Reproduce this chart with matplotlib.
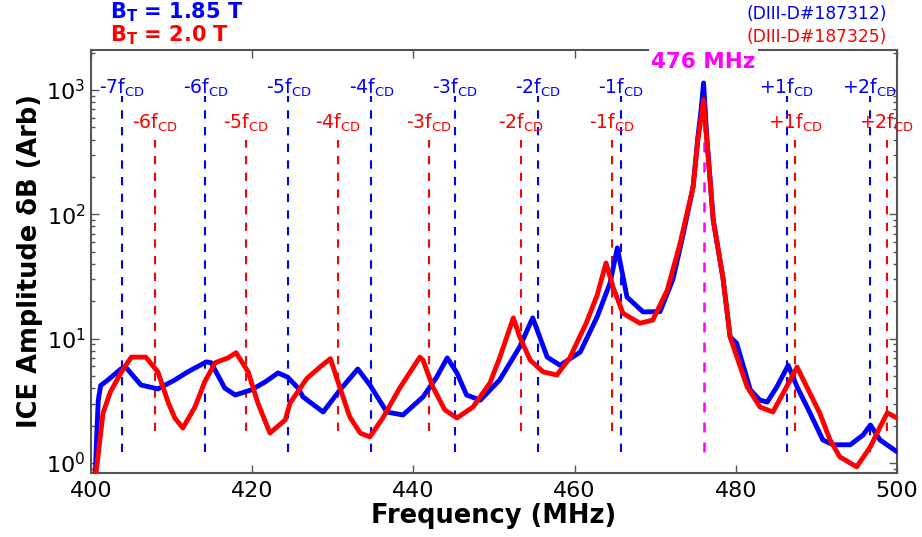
import matplotlib
matplotlib.use("Agg")
import matplotlib.pyplot as plt
import numpy as np

# ---------------- data ----------------
f_center = 476.0
fcd_blue = 10.3
fcd_red = 11.35
blue_harm = [-7, -6, -5, -4, -3, -2, -1, 1, 2]
red_harm = [-6, -5, -4, -3, -2, -1, 1, 2]

blue_f = [400.5, 400.7, 400.9, 401.2, 402.1, 403.7, 404.3, 406.2, 408.3, 410.4, 412.0,
          414.3, 414.9, 416.6, 417.9, 419.9, 421.6, 423.2, 424.4, 425.7, 426.3, 428.8,
          430.9, 433.1, 434.6, 436.7, 438.7, 441.2, 442.9, 444.2, 445.4, 446.6, 448.3,
          450.7, 453.2, 454.8, 456.6, 458.2, 460.7, 462.8, 464.4, 465.3, 466.5, 468.5,
          470.6, 472.2, 473.4, 474.7, 475.3, 475.7, 476.0, 476.2, 476.4, 477.2, 478.4,
          479.3, 480.1, 481.8, 483.0, 483.9, 485.1, 486.5, 487.6, 489.2, 490.8, 492.1,
          494.2, 495.8, 496.7, 497.9, 500.0]
blue_v = [0.7, 1.6, 3.2, 4.2, 4.65, 5.7, 5.9, 4.24, 3.94, 4.65, 5.4,
          6.5, 6.4, 4.0, 3.52, 3.87, 4.48, 5.3, 4.9, 4.0, 3.4, 2.57,
          3.87, 5.7, 4.24, 2.57, 2.43, 3.4, 4.92, 7.0, 5.3, 3.52, 3.2,
          4.65, 8.6, 14.7, 7.1, 6.1, 7.8, 15.0, 28.0, 53.7, 21.6, 16.4,
          16.5, 30.0, 65.8, 166.0, 420.0, 700.0, 1140.0, 700.0, 420.0, 90.0, 31.0,
          10.3, 9.2, 3.87, 3.2, 3.09, 4.1, 6.1, 4.1, 2.53, 1.53, 1.4,
          1.4, 1.68, 2.02, 1.53, 1.23]

red_f = [400.5, 400.6, 401.1, 401.5, 402.4, 403.7, 405.0, 406.8, 408.3, 409.6, 410.4,
         411.4, 412.9, 414.1, 415.4, 417.0, 418.0, 419.5, 420.7, 422.2, 424.1, 424.7,
         426.8, 428.4, 429.7, 430.9, 432.1, 433.4, 434.6, 436.2, 438.3, 440.8, 441.2,
         442.4, 443.9, 445.4, 447.4, 449.5, 450.7, 452.4, 453.2, 454.5, 456.1, 457.8,
         459.4, 461.5, 462.8, 463.9, 464.8, 466.0, 468.1, 469.7, 471.5, 473.1, 474.7,
         475.3, 475.7, 476.0, 476.2, 476.4, 477.2, 478.4, 479.3, 481.4, 483.0, 484.6,
         486.1, 487.6, 488.8, 490.4, 491.7, 492.9, 495.0, 496.7, 497.9, 498.8, 500.0]
red_v = [0.6, 0.8, 1.53, 2.53, 3.72, 5.3, 7.1, 7.1, 5.4, 3.04, 2.3,
         1.91, 2.82, 4.48, 6.4, 7.0, 7.7, 5.4, 3.04, 1.74, 2.22, 3.04,
         4.8, 5.9, 6.9, 4.0, 2.35, 1.74, 1.62, 2.3, 4.0, 7.1, 6.7,
         4.1, 2.67, 2.3, 2.82, 4.4, 7.0, 14.7, 10.3, 6.7, 5.4, 5.1,
         7.0, 13.6, 22.4, 40.6, 25.6, 16.0, 13.3, 14.1, 24.6, 58.8, 166.0,
         400.0, 600.0, 830.0, 600.0, 400.0, 90.0, 31.0, 10.3, 4.1, 2.82, 2.57,
         3.87, 5.9, 4.1, 2.53, 1.53, 1.12, 0.93, 1.35, 1.95, 2.53, 2.3]

xticks = [400, 420, 440, 460, 480, 500]

# ---------------- figure ----------------
plt.rcParams['font.family'] = ['DejaVu Sans']
plt.rcParams['mathtext.default'] = 'regular'
fig = plt.figure(figsize=(9.22, 5.37), dpi=100, facecolor='white')
ax = fig.add_axes([91/922, 1-473/537, (897-91)/922, (473-50)/537])

ax.set_yscale('log')
ax.set_xlim(400, 500)
ax.set_ylim(0.83, 2100)

# harmonic lines
for k in blue_harm:
    x = f_center + k * fcd_blue
    ax.plot([x, x], [1.22, 900], color='blue', lw=1.5, dashes=(4, 4), zorder=1)
    lab = ('%+d' % k if k > 0 else '%d' % k) + r'f$_{CD}$'
    ax.text(x, 1040, lab, color='blue', fontsize=13.5, ha='center', va='center', zorder=6)
for k in red_harm:
    x = f_center + k * fcd_red
    ax.plot([x, x], [1.8, 400], color='red', lw=1.5, dashes=(4, 4), zorder=1)
    lab = ('%+d' % k if k > 0 else '%d' % k) + r'f$_{CD}$'
    ax.text(x, 543, lab, color='red', fontsize=13.5, ha='center', va='center', zorder=6)
ax.plot([f_center, f_center], [1.22, 900], color='magenta', lw=1.8, dashes=(4, 4), zorder=1)

ax.plot(blue_f, blue_v, color='blue', lw=3.5, zorder=3)
ax.plot(red_f, red_v, color='red', lw=3.5, zorder=4)

ax.text(f_center, 1683, '476 MHz', color='magenta', fontsize=15.5, fontweight='bold',
        ha='center', va='center', zorder=10,
        bbox=dict(facecolor='white', edgecolor='none', pad=2))

ax.set_xticks(xticks)
ax.set_xticklabels([str(t) for t in xticks])
ax.tick_params(axis='both', which='major', labelsize=16, direction='in',
               top=True, right=True, length=6, width=1, pad=6, color='#555555')
ax.tick_params(axis='both', which='minor', direction='in', top=True, right=True,
               length=3, width=1, color='#555555')
ax.tick_params(axis='y', which='major', pad=4)
for s in ax.spines.values():
    s.set_color('#555555')
    s.set_linewidth(1.5)

ax.set_xlabel('Frequency (MHz)', fontsize=18.5, fontweight='bold', labelpad=1)
ax.set_ylabel('ICE Amplitude δB (Arb)', fontsize=18.5, fontweight='bold', labelpad=2)

fig.text(110/922, 1-18/537, r'$\mathbf{B_T}$ = 1.85 T', color='blue', fontsize=15,
         fontweight='bold', ha='left', va='baseline')
fig.text(110/922, 1-41/537, r'$\mathbf{B_T}$ = 2.0 T', color='red', fontsize=15,
         fontweight='bold', ha='left', va='baseline')
fig.text(887/922, 1-19/537, '(DIII-D#187312)', color='blue', fontsize=12.3,
         ha='right', va='baseline')
fig.text(887/922, 1-42/537, '(DIII-D#187325)', color='red', fontsize=12.3,
         ha='right', va='baseline')

fig.savefig('out.png', dpi=100, facecolor='white')
